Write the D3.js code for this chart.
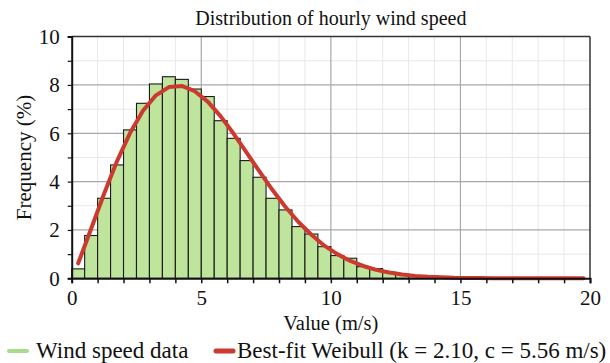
<!DOCTYPE html>
<html><head><meta charset="utf-8">
<script src="https://cdn.jsdelivr.net/npm/d3@7"></script>
<style>
html,body{margin:0;padding:0;background:#fff;}
svg{display:block;font-family:"Liberation Serif","Times New Roman",serif;}
</style></head>
<body>
<svg id="chart" width="610" height="363"></svg>
<script>
// Data
const binStarts = [0,0.5,1,1.5,2,2.5,3,3.5,4,4.5,5,5.5,6,6.5,7,7.5,8,8.5,9,9.5,10,10.5,11,11.5,12,12.5,13,13.5,14,14.5];
const frequencies = [0.39,1.77,3.31,4.69,6.14,7.24,8.04,8.34,8.23,7.83,7.52,6.52,5.79,4.87,4.18,3.31,2.83,2.14,1.83,1.31,0.94,0.83,0.48,0.40,0.25,0.17,0.10,0.06,0.03,0.01];
const binWidth = 0.5;
const fitX = [0.25,0.75,1.25,1.75,2.25,2.75,3.25,3.75,4.25,4.75,5.25,5.75,6.25,6.75,7.25,7.75,8.25,8.75,9.25,9.75,10.25,10.75,11.25,11.75,12.25,12.75,13.25,13.75,14.25,14.75,15.25,15.75,16.25,16.75,17.25,17.75,18.25,18.75,19.25,19.75];
const fitY = [0.62,2.05,3.50,4.85,6.01,6.93,7.57,7.91,7.96,7.74,7.31,6.70,5.98,5.20,4.41,3.65,2.95,2.33,1.80,1.35,1.00,0.72,0.51,0.35,0.24,0.16,0.10,0.06,0.04,0.02,0.014,0.008,0.005,0.003,0.001,0.001,0,0,0,0];
const xTicks = [0,5,10,15,20];
const yTicks = [0,2,4,6,8,10];
const title = "Distribution of hourly wind speed";
const xLabel = "Value (m/s)";
const yLabel = "Frequency (%)";
const legendLabels = ["Wind speed data","Best-fit Weibull (k = 2.10, c = 5.56 m/s)"];

const svg = d3.select("#chart");
const L = 71.7, R = 590, T = 36.6, B = 278.3;
const x = d3.scaleLinear().domain([0,20]).range([L,R]);
const y = d3.scaleLinear().domain([0,10]).range([B,T]);

const green = "#bfe59c", red = "#cc3a2f";

// grid
const g = svg.append("g");
g.selectAll(".vminor").data(d3.range(1,20).filter(v=>v%5!==0)).join("line")
  .attr("x1",d=>x(d)).attr("x2",d=>x(d)).attr("y1",T).attr("y2",B)
  .attr("stroke","#e8e8e8").attr("stroke-width",1);
g.selectAll(".hminor").data(d3.range(1,10,2)).join("line")
  .attr("x1",L).attr("x2",R).attr("y1",d=>y(d)).attr("y2",d=>y(d))
  .attr("stroke","#e8e8e8").attr("stroke-width",1);
g.selectAll(".vmajor").data([5,10,15]).join("line")
  .attr("x1",d=>x(d)).attr("x2",d=>x(d)).attr("y1",T).attr("y2",B)
  .attr("stroke","#a8a8a8").attr("stroke-width",1.2);
g.selectAll(".hmajor").data([2,4,6,8]).join("line")
  .attr("x1",L).attr("x2",R).attr("y1",d=>y(d)).attr("y2",d=>y(d))
  .attr("stroke","#a8a8a8").attr("stroke-width",1.2);

// bars
svg.append("g").selectAll("rect").data(binStarts.map((s,i)=>({s,v:frequencies[i]}))).join("rect")
  .attr("x",d=>x(d.s)).attr("width",d=>x(d.s+binWidth)-x(d.s))
  .attr("y",d=>y(d.v)).attr("height",d=>y(0)-y(d.v))
  .attr("fill",green).attr("stroke","#1a1a1a").attr("stroke-width",1.1);

// frame top/right
svg.append("line").attr("x1",L).attr("x2",R).attr("y1",T).attr("y2",T).attr("stroke","#333").attr("stroke-width",1.5);
svg.append("line").attr("x1",R).attr("x2",R).attr("y1",T).attr("y2",B).attr("stroke","#333").attr("stroke-width",1.5);

// fit curve
const line = d3.line().x((d,i)=>x(fitX[i])).y(d=>y(d));
svg.append("path").datum(fitY).attr("d",line).attr("fill","none")
  .attr("stroke",red).attr("stroke-width",4).attr("stroke-linejoin","round").attr("stroke-linecap","round");

// axes
const xAxis = d3.axisBottom(x).tickValues(d3.range(0,21,1)).tickSize(5)
  .tickFormat(d=>xTicks.includes(d)?d:"");
const xa = svg.append("g").attr("transform",`translate(0,${B})`).call(xAxis);
xa.select(".domain").attr("stroke","#111").attr("stroke-width",2);
xa.selectAll(".tick line").attr("stroke","#111").attr("stroke-width",1.5);
xa.selectAll("text").attr("font-size",21).attr("fill","#111").attr("dy","0.9em")
  .attr("font-family","Liberation Serif, serif");

const yAxis = d3.axisLeft(y).tickValues(d3.range(0,11,1)).tickSize(4)
  .tickFormat(d=>yTicks.includes(d)?d:"");
const ya = svg.append("g").attr("transform",`translate(${L},0)`).call(yAxis);
ya.select(".domain").attr("stroke","#111").attr("stroke-width",2);
ya.selectAll(".tick line").attr("stroke","#111").attr("stroke-width",1.2);
ya.selectAll("text").attr("font-size",21).attr("fill","#111").attr("x",-12)
  .attr("font-family","Liberation Serif, serif");

// titles
svg.append("text").attr("x",(L+R)/2).attr("y",25).attr("text-anchor","middle")
  .attr("font-size",20).attr("fill","#111").text(title);
svg.append("text").attr("x",(L+R)/2).attr("y",330).attr("text-anchor","middle")
  .attr("font-size",20.5).attr("fill","#111").text(xLabel);
svg.append("text").attr("transform",`translate(31,${(T+B)/2}) rotate(-90)`).attr("text-anchor","middle")
  .attr("font-size",21).attr("fill","#111").text(yLabel);

// legend
const lg = svg.append("g");
lg.append("line").attr("x1",9).attr("x2",27).attr("y1",351).attr("y2",351)
  .attr("stroke","#a9dc8a").attr("stroke-width",4).attr("stroke-linecap","round");
lg.append("text").attr("x",36).attr("y",358).attr("font-size",23).attr("fill","#111").text(legendLabels[0]);
lg.append("line").attr("x1",216).attr("x2",233).attr("y1",351).attr("y2",351)
  .attr("stroke",red).attr("stroke-width",5).attr("stroke-linecap","round");
lg.append("text").attr("x",237).attr("y",358).attr("font-size",23).attr("fill","#111").text(legendLabels[1]);
</script>
</body></html>
